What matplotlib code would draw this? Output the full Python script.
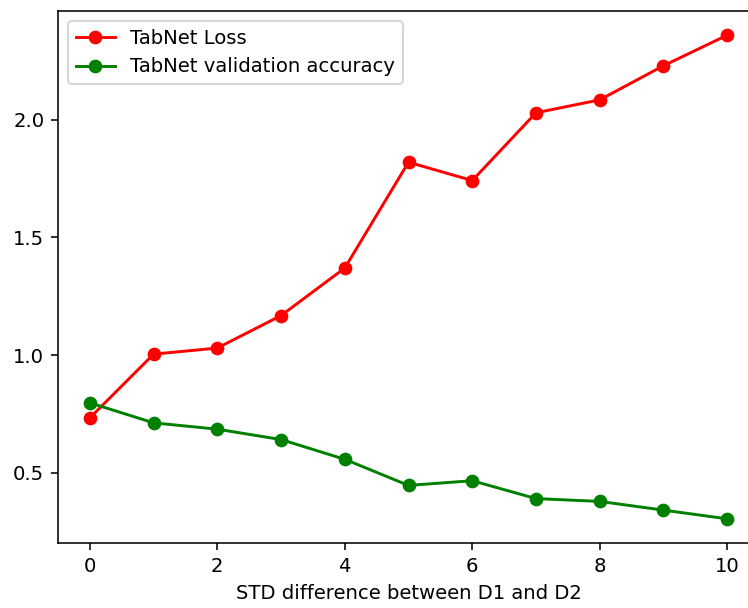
import matplotlib
matplotlib.use('Agg')
import matplotlib.pyplot as plt

# Data
std_diff = [0, 1, 2, 3, 4, 5, 6, 7, 8, 9, 10]
tabnet_loss = [0.733, 1.004, 1.030, 1.168, 1.370, 1.820, 1.742, 2.030, 2.085, 2.230, 2.360]
tabnet_val_acc = [0.797, 0.712, 0.685, 0.641, 0.557, 0.446, 0.466, 0.390, 0.378, 0.341, 0.304]

DPI = 141
W, H = 748, 608

fig = plt.figure(figsize=(W / DPI, H / DPI), dpi=DPI)
# axes run past the right edge, as in the cropped reference
ax = fig.add_axes([58 / W, (H - 543) / H, 701 / W, 532 / H])

ax.plot(std_diff, tabnet_loss, 'o-', color='red', label='TabNet Loss')
ax.plot(std_diff, tabnet_val_acc, 'o-', color='green', label='TabNet validation accuracy')

ax.set_xticks([0, 2, 4, 6, 8, 10])
ax.set_yticks([0.5, 1.0, 1.5, 2.0])
ax.set_xlabel('STD difference between D1 and D2')
ax.legend(loc='upper left')
ax.spines['right'].set_visible(False)

fig.savefig('out.png', dpi=DPI)
